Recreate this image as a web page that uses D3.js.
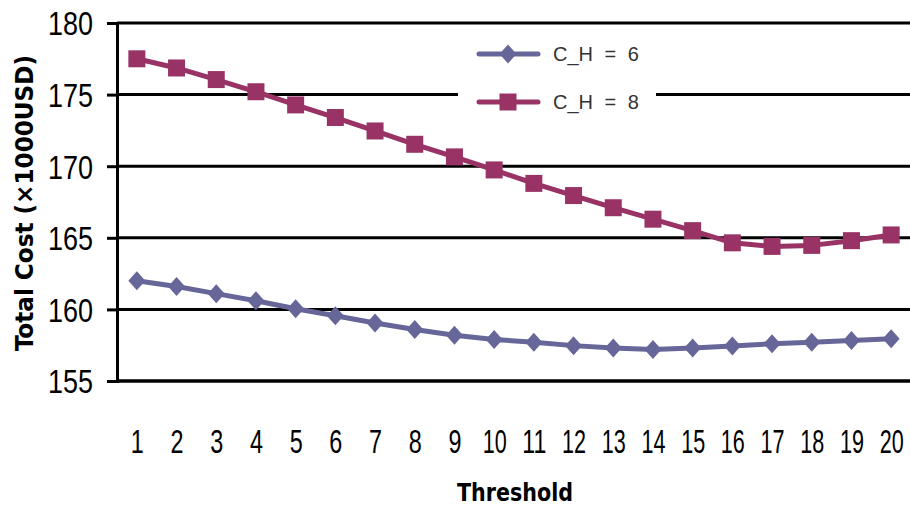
<!DOCTYPE html>
<html>
<head>
<meta charset="utf-8">
<script src="https://cdn.jsdelivr.net/npm/d3@7"></script>
<style>
  html, body { margin: 0; padding: 0; background: #fff; }
  svg { display: block; }
</style>
</head>
<body>
<svg id="chart" width="910" height="506"></svg>
<script>
// Threshold values along the x axis
const thresholds = ["1","2","3","4","5","6","7","8","9","10","11","12","13","14","15","16","17","18","19","20"];
// Total cost (x1000 USD) per threshold for each holding-cost setting
const costCH6 = [162.0, 161.6, 161.1, 160.6, 160.05, 159.56, 159.05, 158.6, 158.2, 157.9, 157.7, 157.47, 157.3, 157.2, 157.3, 157.45, 157.6, 157.7, 157.83, 157.95];
const costCH8 = [177.5, 176.86, 176.05, 175.2, 174.28, 173.4, 172.46, 171.53, 170.65, 169.74, 168.8, 167.95, 167.1, 166.3, 165.5, 164.65, 164.4, 164.47, 164.8, 165.2];
const yTicks = [155, 160, 165, 170, 175, 180];
const seriesNames = ["C_H = 6", "C_H = 8"];
const seriesColors = ["#666699", "#993366"];

const svg = d3.select("#chart");
const plotLeft = 117, plotRight = 911, plotTop = 23, plotBottom = 381;
const tickFont = "'Liberation Sans', Arial, sans-serif";
const titleFont = "'DejaVu Sans Condensed', 'Liberation Sans', sans-serif";

const x = d3.scalePoint().domain(thresholds).range([plotLeft, plotRight]).padding(0.5);
const y = d3.scaleLinear().domain([155, 180]).range([plotBottom, plotTop]);

// horizontal gridlines
svg.append("g")
  .selectAll("line")
  .data(yTicks)
  .join("line")
  .attr("x1", plotLeft).attr("x2", plotRight)
  .attr("y1", d => y(d)).attr("y2", d => y(d))
  .attr("stroke", "#000").attr("stroke-width", 3);

// y axis
const yAxis = svg.append("g")
  .attr("transform", `translate(${plotLeft},0)`)
  .call(d3.axisLeft(y).tickValues(yTicks).tickSize(10).tickPadding(14).tickFormat(d3.format("d")));
yAxis.select(".domain").attr("stroke", "#000").attr("stroke-width", 3);
yAxis.selectAll(".tick line").attr("stroke", "#000").attr("stroke-width", 3);
yAxis.selectAll(".tick text")
  .attr("fill", "#000")
  .style("font-family", tickFont)
  .style("font-size", "33px")
  .attr("dy", "0.36em")
  .attr("textLength", 45)
  .attr("lengthAdjust", "spacingAndGlyphs");

// x axis
const xAxis = svg.append("g")
  .attr("transform", `translate(0,${plotBottom})`)
  .call(d3.axisBottom(x).tickSize(0));
xAxis.select(".domain").remove();
svg.append("line")
  .attr("x1", plotLeft - 1).attr("x2", plotRight)
  .attr("y1", plotBottom).attr("y2", plotBottom)
  .attr("stroke", "#000").attr("stroke-width", 3);
xAxis.selectAll(".tick text")
  .attr("fill", "#000")
  .style("font-family", tickFont)
  .style("font-size", "33px")
  .attr("dy", "0.36em")
  .attr("y", 60)
  .attr("textLength", d => d.length === 1 ? 13 : 24)
  .attr("lengthAdjust", "spacingAndGlyphs");

// axis titles
svg.append("text")
  .attr("transform", "translate(33,203) rotate(-90)")
  .attr("text-anchor", "middle")
  .style("font-family", titleFont)
  .style("font-weight", "bold")
  .style("font-size", "24px")
  .attr("textLength", 296)
  .attr("lengthAdjust", "spacingAndGlyphs")
  .text("Total Cost (×1000USD)");
svg.append("text")
  .attr("x", 515).attr("y", 501)
  .attr("text-anchor", "middle")
  .style("font-family", titleFont)
  .style("font-weight", "bold")
  .style("font-size", "24px")
  .attr("textLength", 116)
  .attr("lengthAdjust", "spacingAndGlyphs")
  .text("Threshold");

// series lines
const line = d3.line().x((d, i) => x(thresholds[i])).y(d => y(d));
[costCH6, costCH8].forEach((vals, k) => {
  svg.append("path")
    .datum(vals)
    .attr("d", line)
    .attr("fill", "none")
    .attr("stroke", seriesColors[k])
    .attr("stroke-width", 5)
    .attr("stroke-linejoin", "round");
});

const diamond = (cx, cy) => `M${cx},${cy - 9.5}L${cx + 8.5},${cy}L${cx},${cy + 9.5}L${cx - 8.5},${cy}Z`;
const square = (cx, cy) => `M${cx - 8.5},${cy - 8.5}h17v17h-17Z`;

svg.append("g").selectAll("path")
  .data(costCH6)
  .join("path")
  .attr("d", (d, i) => diamond(x(thresholds[i]), y(d)))
  .attr("fill", seriesColors[0]);
svg.append("g").selectAll("path")
  .data(costCH8)
  .join("path")
  .attr("d", (d, i) => square(x(thresholds[i]), y(d)))
  .attr("fill", seriesColors[1]);

// legend
const lg = svg.append("g");
lg.append("rect").attr("x", 458).attr("y", 30).attr("width", 198).attr("height", 92).attr("fill", "#fff");
const legendRows = [54, 102];
legendRows.forEach((ly, k) => {
  lg.append("line")
    .attr("x1", 479).attr("x2", 538).attr("y1", ly).attr("y2", ly)
    .attr("stroke", seriesColors[k]).attr("stroke-width", 5).attr("stroke-linecap", "round");
  lg.append("path")
    .attr("d", k === 0 ? diamond(508, ly) : square(508, ly))
    .attr("fill", seriesColors[k]);
  lg.append("text")
    .attr("x", 553).attr("y", ly).attr("dy", "0.36em")
    .style("font-family", tickFont)
    .style("font-size", "20px")
    .style("word-spacing", "6px")
    .attr("fill", "#333")
    .text(seriesNames[k]);
});
</script>
</body>
</html>
